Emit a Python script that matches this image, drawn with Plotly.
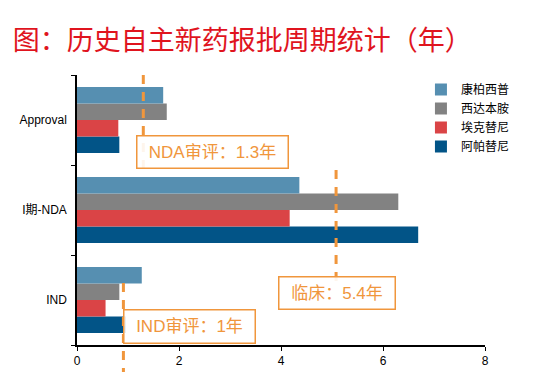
import plotly.graph_objects as go

categories = ["IND", "I期-NDA", "Approval"]
series_names = ["阿帕替尼", "埃克替尼", "西达本胺", "康柏西普"]
apatinib = [0.96, 6.69, 0.83]
icotinib = [0.56, 4.17, 0.81]
chidamide = [0.83, 6.30, 1.76]
conbercept = [1.27, 4.36, 1.69]
series_values = [apatinib, icotinib, chidamide, conbercept]
colors = ["#025487", "#DA4446", "#828282", "#568FB1"]

ref_lines = [1.3, 5.08, 0.91]
ref_labels = ["NDA审评：1.3年", "临床：5.4年", "IND审评：1年"]
x_ticks = [0, 2, 4, 6, 8]

ORANGE = "#F0963C"
FONT = "Liberation Sans, Noto Sans CJK SC, Arial, sans-serif"

fig = go.Figure()
for name, vals, c in zip(series_names, series_values, colors):
    fig.add_trace(go.Bar(y=categories, x=vals, name=name, orientation="h",
                         marker=dict(color=c, line=dict(width=0))))

# dashed reference lines (paper y spans)
spans = [(1.0, 0.648), (0.648, 0.23), (0.23, -0.10)]
for xv, (y0, y1) in zip(ref_lines, spans):
    fig.add_shape(type="line", xref="x", yref="paper", x0=xv, x1=xv, y0=y0, y1=y1,
                  line=dict(color=ORANGE, width=3, dash="9px,8px"))

boxes = [(0.332, 0.716, 146, 27), (0.637, 0.193, 111, 27), (0.275, 0.070, 126, 28)]
for txt, (bx, by, w, h) in zip(ref_labels, boxes):
    fig.add_annotation(text=txt, xref="paper", yref="paper", x=bx, y=by,
                       xanchor="center", yanchor="middle", showarrow=False,
                       font=dict(family=FONT, size=17, color=ORANGE),
                       bordercolor=ORANGE, borderwidth=1.5, borderpad=2,
                       width=w, height=h, bgcolor="rgba(255,255,255,0.9)")

fig.update_layout(
    width=536, height=372,
    margin=dict(l=76.5, r=51, t=75, b=27, autoexpand=False),
    paper_bgcolor="white", plot_bgcolor="white",
    barmode="group", bargap=0.267, bargroupgap=0,
    font=dict(family=FONT, size=12, color="#000000"),
    title=dict(text="图：历史自主新药报批周期统计（年）", x=0.024, xanchor="left",
               xref="container", y=0.892, yanchor="middle",
               font=dict(family="Noto Sans CJK SC, sans-serif", size=27, color="#E0141E")),
    legend=dict(x=0.843, y=1.0, xanchor="left", yanchor="top", traceorder="reversed",
                font=dict(size=12), bgcolor="rgba(0,0,0,0)", itemwidth=30,
                tracegroupgap=0),
    showlegend=True,
)
fig.update_xaxes(range=[0, 8], tickvals=x_ticks, showgrid=False, zeroline=False,
                 showline=True, linecolor="black", linewidth=1.5, automargin=False,
                 ticks="outside", ticklen=4, tickcolor="black",
                 tickfont=dict(size=12, color="black"))
fig.update_yaxes(categoryorder="array", categoryarray=categories, showgrid=False,
                 showline=True, linecolor="black", linewidth=1.5, automargin=False,
                 ticks="outside", ticklen=4, tickcolor="black", tickson="boundaries",
                 ticklabelstandoff=6,
                 tickfont=dict(size=12, color="black"))

fig.write_html("out.html", config={"displayModeBar": False},
               post_script="document.body.style.margin='0';document.body.style.padding='0';")
